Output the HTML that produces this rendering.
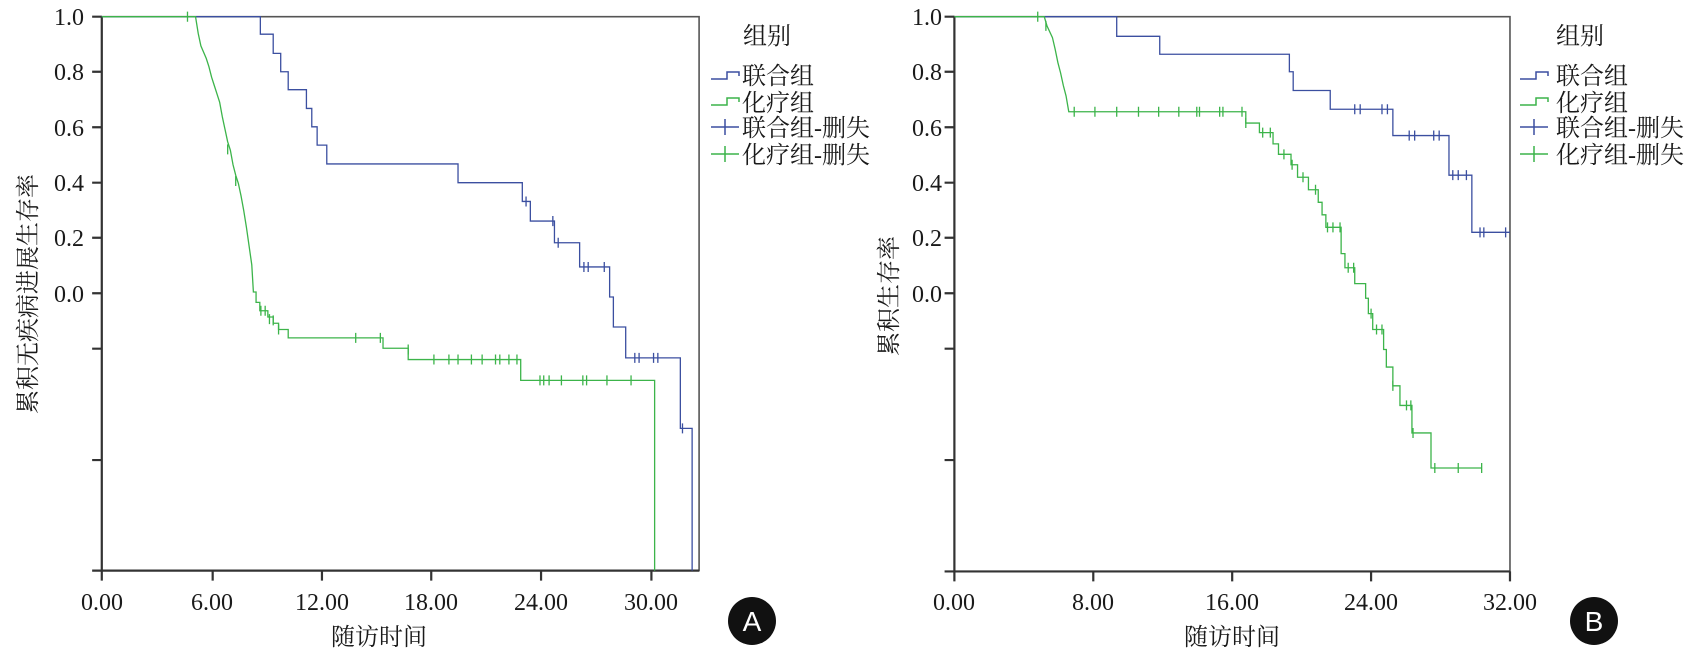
<!DOCTYPE html>
<html><head><meta charset="utf-8"><style>
html,body{margin:0;padding:0;background:#fff;width:1694px;height:654px;overflow:hidden}
svg{display:block}
text{font-family:"Liberation Serif","Noto Serif CJK SC",serif;fill:#1a1a1a}
.cj{font-family:"Liberation Serif","Noto Serif CJK SC","Noto Sans CJK SC",serif}
</style></head><body>
<svg width="1694" height="654" viewBox="0 0 1694 654" xmlns="http://www.w3.org/2000/svg">
<g transform="scale(0.5357,0.4171)" fill="none" stroke-linejoin="miter">
 <g stroke="#333" stroke-width="2.2">
  <rect x="190" y="40" width="1115" height="1328" vector-effect="non-scaling-stroke" stroke="#555" stroke-width="1.6"/>
  <path vector-effect="non-scaling-stroke" d="M190 40V1368H1305"/>
  <path vector-effect="non-scaling-stroke" d="M172 40H190M172 172H190M172 305H190M172 438H190M172 570H190M172 703H190M172 836H190M172 1103H190M172 1368H190"/>
  <path vector-effect="non-scaling-stroke" d="M190 1368V1392M397 1368V1392M601 1368V1392M805 1368V1392M1010 1368V1392M1216 1368V1392"/>
 </g>
 <path stroke="#3b4fa0" stroke-width="1.3" vector-effect="non-scaling-stroke" d="M190 40H486V82H510V128H524V172H538V215H572V260H582V304H592V348H610V393H855V438H975V483H990V530H1035V582H1082V640H1138V712H1145V784H1168V858H1270V1027H1292V1368"/>
 <path stroke="#3b4fa0" stroke-width="1.3" vector-effect="non-scaling-stroke" d="M982 471V495M1032 518V542M1042 570V594M1090 628V652M1098 628V652M1128 628V652M1185 846V870M1193 846V870M1220 846V870M1228 846V870M1274 1015V1039"/>
 <path stroke="#3cb44a" stroke-width="1.3" vector-effect="non-scaling-stroke" d="M190 40H365L370 80L375 110L380 125L385 140L390 160L395 185L400 205L405 225L410 245L415 280L420 310L425 340L430 360L435 395L440 420L445 440L450 470L455 505L460 545L465 590L470 635L473 700H478V725H485V745H500V760H510V775H520V790H538V810H715V835H762V862H972V912H1222V1368"/>
 <path stroke="#3cb44a" stroke-width="1.3" vector-effect="non-scaling-stroke" d="M350 28V52M425 346V370M440 422V446M487 733V757M495 733V757M503 753V777M510 756V780M520 778V802M664 798V822M710 798V822M762 826V850M810 850V874M838 850V874M855 850V874M880 850V874M900 850V874M925 850V874M933 850V874M950 850V874M965 850V874M1008 900V924M1015 900V924M1025 900V924M1048 900V924M1088 900V924M1095 900V924M1133 900V924M1178 900V924"/>
</g>
<g transform="translate(840,0) scale(0.5447,0.4171)" fill="none">
 <g stroke="#333" stroke-width="2.2">
  <rect x="210" y="40" width="1020" height="1330" vector-effect="non-scaling-stroke" stroke="#555" stroke-width="1.6"/>
  <path vector-effect="non-scaling-stroke" d="M210 40V1370H1230"/>
  <path vector-effect="non-scaling-stroke" d="M192 40H210M192 172H210M192 305H210M192 438H210M192 570H210M192 703H210M192 836H210M192 1103H210M192 1370H210"/>
  <path vector-effect="non-scaling-stroke" d="M210 1370V1394M465 1370V1394M720 1370V1394M975 1370V1394M1230 1370V1394"/>
 </g>
 <path stroke="#3b4fa0" stroke-width="1.3" vector-effect="non-scaling-stroke" d="M210 40H508V87H587V130H825V172H832V217H900V262H1015V325H1118V420H1160V557H1230"/>
 <path stroke="#3b4fa0" stroke-width="1.3" vector-effect="non-scaling-stroke" d="M945 250V274M955 250V274M995 250V274M1005 250V274M1045 313V337M1055 313V337M1090 313V337M1100 313V337M1125 408V432M1135 408V432M1150 408V432M1175 545V569M1182 545V569M1222 545V569"/>
 <path stroke="#3cb44a" stroke-width="1.3" vector-effect="non-scaling-stroke" d="M210 40H375L380 62L390 90L395 118L400 150L405 175L410 205L415 230L420 268H745V295H770V318H795V345H805V370H828V395H840V425H860V455H878V485H885V515H892V545H920V608H927V642H945V680H965V715H970V752H978V790H998V838H1003V880H1015V925H1028V972H1050V1038H1085V1122H1178"/>
 <path stroke="#3cb44a" stroke-width="1.3" vector-effect="non-scaling-stroke" d="M363 28V52M378 50V74M430 256V280M468 256V280M508 256V280M548 256V280M585 256V280M622 256V280M655 256V280M660 256V280M697 256V280M703 256V280M738 256V280M745 283V307M776 306V330M790 306V330M815 358V382M830 383V407M850 413V437M873 443V467M895 533V557M905 533V557M918 533V557M933 630V654M943 630V654M975 740V764M985 778V802M995 778V802M1015 913V937M1040 960V984M1048 960V984M1052 1026V1050M1092 1110V1134M1135 1110V1134M1178 1110V1134"/>
</g>
<g font-size="24" text-anchor="end">
 <text x="84" y="25">1.0</text><text x="84" y="80">0.8</text><text x="84" y="136">0.6</text><text x="84" y="191">0.4</text><text x="84" y="246">0.2</text><text x="84" y="302">0.0</text>
</g>
<g font-size="24" text-anchor="middle">
 <text x="102" y="610">0.00</text><text x="212" y="610">6.00</text><text x="322" y="610">12.00</text><text x="431" y="610">18.00</text><text x="541" y="610">24.00</text><text x="651" y="610">30.00</text>
 <text class="cj" x="379" y="645">随访时间</text>
 <text class="cj" transform="translate(36,294) rotate(-90)">累积无疾病进展生存率</text>
</g>
<g font-size="24">
 <text class="cj" x="743" y="44">组别</text>
 <text class="cj" x="742" y="84">联合组</text>
 <text class="cj" x="742" y="111">化疗组</text>
 <text class="cj" x="742" y="136">联合组-删失</text>
 <text class="cj" x="742" y="163">化疗组-删失</text>
</g>
<g fill="none" stroke-width="1.5">
 <path stroke="#3b4fa0" d="M711 79H727V72H739V76"/>
 <path stroke="#3cb44a" d="M711 105H727V98H739V102"/>
 <path stroke="#3b4fa0" d="M711 127H739M725 119V135"/>
 <path stroke="#3cb44a" d="M711 154H739M725 146V162"/>
 <path stroke="#3b4fa0" d="M1520 79H1536V72H1548V76"/>
 <path stroke="#3cb44a" d="M1520 105H1536V98H1548V102"/>
 <path stroke="#3b4fa0" d="M1520 127H1548M1534 119V135"/>
 <path stroke="#3cb44a" d="M1520 154H1548M1534 146V162"/>
</g>
<circle cx="752" cy="621" r="24" fill="#111"/>
<text x="752" y="631" text-anchor="middle" font-size="28" style="font-family:'Liberation Sans',sans-serif;fill:#fff">A</text>
<g font-size="24" text-anchor="end">
 <text x="942" y="25">1.0</text><text x="942" y="80">0.8</text><text x="942" y="136">0.6</text><text x="942" y="191">0.4</text><text x="942" y="246">0.2</text><text x="942" y="302">0.0</text>
</g>
<g font-size="24" text-anchor="middle">
 <text x="954" y="610">0.00</text><text x="1093" y="610">8.00</text><text x="1232" y="610">16.00</text><text x="1371" y="610">24.00</text><text x="1510" y="610">32.00</text>
 <text class="cj" x="1232" y="645">随访时间</text>
 <text class="cj" transform="translate(897,296) rotate(-90)">累积生存率</text>
</g>
<g font-size="24">
 <text class="cj" x="1556" y="44">组别</text>
 <text class="cj" x="1556" y="84">联合组</text>
 <text class="cj" x="1556" y="111">化疗组</text>
 <text class="cj" x="1556" y="136">联合组-删失</text>
 <text class="cj" x="1556" y="163">化疗组-删失</text>
</g>
<circle cx="1594" cy="621" r="24" fill="#111"/>
<text x="1594" y="631" text-anchor="middle" font-size="28" style="font-family:'Liberation Sans',sans-serif;fill:#fff">B</text>
</svg>
</body></html>
